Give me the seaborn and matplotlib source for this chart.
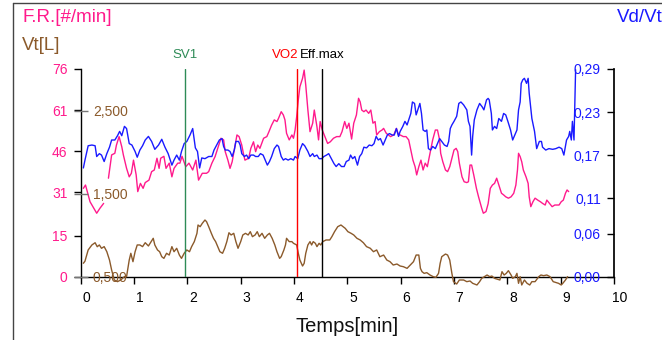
import numpy as np
import pandas as pd
import matplotlib
matplotlib.use('Agg')
import matplotlib.pyplot as plt
import matplotlib.transforms as mtransforms
from matplotlib.lines import Line2D
import seaborn as sns

# F.R. [#/min] (left axis) - two pieces, gap near 0.45 min
fr_t = [0.05, 0.09, 0.175, 0.30, 0.36, 0.43,
        0.52, 0.58, 0.64, 0.67, 0.72, 0.77, 0.80, 0.86, 0.91, 0.95, 0.99, 1.04, 1.07, 1.12,
        1.17, 1.21, 1.28, 1.33, 1.38, 1.43, 1.47, 1.50, 1.56, 1.60, 1.66, 1.71, 1.75, 1.82,
        1.86, 1.90, 1.97, 2.03, 2.10, 2.16, 2.21, 2.28, 2.36, 2.40, 2.46, 2.52, 2.58, 2.63,
        2.68, 2.71, 2.76, 2.80, 2.84, 2.88, 2.93, 2.97, 3.02, 3.05, 3.08, 3.15, 3.19, 3.24,
        3.28, 3.32, 3.36, 3.43, 3.49, 3.53, 3.58, 3.63, 3.68, 3.71, 3.76, 3.80, 3.83, 3.86,
        3.91, 3.96, 3.99, 4.02, 4.05, 4.08, 4.11, 4.16, 4.19, 4.22, 4.26, 4.30, 4.35, 4.38,
        4.43, 4.46, 4.49, 4.53, 4.58, 4.63, 4.68, 4.74, 4.80, 4.86, 4.90, 4.95, 4.99, 5.03,
        5.08, 5.12, 5.17, 5.21, 5.24, 5.27, 5.31, 5.35, 5.40, 5.44, 5.48, 5.52, 5.55, 5.60,
        5.65, 5.68, 5.73, 5.77, 5.81, 5.87, 5.92, 5.96, 5.99, 6.05, 6.10, 6.15, 6.19, 6.23,
        6.27, 6.30, 6.34, 6.38, 6.42, 6.46, 6.50, 6.55, 6.60, 6.65, 6.69, 6.73, 6.75, 6.79,
        6.84, 6.88, 6.92, 6.96, 7.00, 7.04, 7.07, 7.10, 7.15, 7.19, 7.24, 7.27, 7.30, 7.33,
        7.37, 7.42, 7.46, 7.52, 7.55, 7.60, 7.64, 7.68, 7.72, 7.76, 7.80, 7.85, 7.89, 7.93,
        7.97, 8.02, 8.07, 8.12, 8.16, 8.19, 8.21, 8.24, 8.27, 8.30, 8.35, 8.39, 8.41, 8.44,
        8.48, 8.52, 8.57, 8.62, 8.66, 8.71, 8.74, 8.79, 8.84, 8.89, 8.93, 8.97, 9.01, 9.05,
        9.09, 9.12, 9.15]
fr = [32.4, 33.6, 27.5, 23.3, 25.1, 26.9,
      36.1, 44.6, 45.2, 48.2, 51.3, 47.6, 44.6, 39.7, 36.6, 37.9, 42.7, 37.3, 31.2, 34.2,
      32.4, 34.5, 35.4, 38.5, 39.1, 43.4, 39.7, 43.4, 44.1, 39.7, 41.6, 36.6, 39.7, 41.6,
      41.6, 44.1, 40.3, 41.6, 39.1, 42.7, 35.4, 37.9, 37.9, 38.5, 41.6, 44.0, 47.6, 50.7,
      50.1, 45.8, 42.7, 39.7, 42.1, 46.4, 51.9, 51.3, 48.2, 45.2, 42.7, 43.4, 47.0, 49.4,
      45.8, 48.2, 47.0, 50.7, 51.3, 53.1, 55.5, 57.4, 56.8, 58.0, 60.4, 59.2, 57.4, 52.5,
      50.1, 51.9, 50.7, 53.7, 58.6, 64.7, 69.5, 72.6, 75.6, 70.1, 61.0, 53.1, 56.2, 61.0,
      54.9, 50.1, 56.8, 53.7, 51.3, 48.8, 49.4, 50.7, 51.3, 51.3, 53.1, 56.8, 54.3, 56.2,
      50.4, 56.2, 59.2, 65.3, 64.0, 61.0, 60.4, 61.0, 59.8, 61.0, 56.2, 56.8, 51.9, 53.1,
      53.7, 54.3, 52.5, 51.9, 51.3, 51.9, 54.3, 51.9, 51.9, 51.3, 51.3, 50.1, 46.4, 42.7,
      40.3, 37.3, 40.3, 42.7, 39.1, 41.6, 40.3, 45.2, 50.1, 53.7, 53.7, 50.1, 45.2, 42.1,
      39.1, 38.5, 40.3, 43.4, 46.4, 47.0, 45.8, 41.6, 36.6, 34.8, 34.5, 34.8, 40.9, 40.9,
      37.3, 32.4, 29.3, 25.1, 23.3, 23.9, 26.8, 32.4, 33.6, 34.2, 36.1, 33.0, 30.6, 30.0,
      29.3, 28.8, 29.3, 30.6, 33.6, 39.1, 45.2, 44.0, 42.1, 39.1, 36.6, 34.2, 29.3, 25.7,
      27.5, 28.8, 28.1, 27.5, 26.9, 26.3, 28.1, 26.9, 25.7, 26.3, 26.3, 26.3, 27.5, 28.1,
      30.6, 31.8, 31.2]
fr_seg = [0] * 6 + [1] * (len(fr_t) - 6)

# Vd/Vt (right axis)
vd_t = [0.05, 0.08, 0.14, 0.21, 0.27, 0.30, 0.35, 0.39, 0.44, 0.49, 0.54, 0.58, 0.64, 0.69,
        0.73, 0.77, 0.82, 0.86, 0.91, 0.96, 1.02, 1.06, 1.11, 1.16, 1.21, 1.27, 1.33, 1.39,
        1.46, 1.52, 1.58, 1.64, 1.71, 1.75, 1.80, 1.85, 1.89, 1.94, 1.99, 2.05, 2.10, 2.15,
        2.19, 2.23, 2.27, 2.33, 2.40, 2.46, 2.50, 2.55, 2.60, 2.65, 2.68, 2.71, 2.76, 2.80,
        2.84, 2.88, 2.91, 2.96, 2.99, 3.02, 3.07, 3.11, 3.15, 3.19, 3.24, 3.28, 3.33, 3.37,
        3.42, 3.46, 3.50, 3.54, 3.58, 3.63, 3.68, 3.71, 3.76, 3.80, 3.84, 3.89, 3.94, 3.99,
        4.02, 4.07, 4.11, 4.16, 4.20, 4.26, 4.30, 4.35, 4.38, 4.43, 4.47, 4.52, 4.56, 4.61,
        4.65, 4.70, 4.75, 4.79, 4.84, 4.89, 4.94, 4.98, 5.03, 5.06, 5.10, 5.14, 5.19, 5.23,
        5.27, 5.31, 5.36, 5.41, 5.46, 5.50, 5.54, 5.58, 5.62, 5.67, 5.71, 5.75, 5.79, 5.84,
        5.88, 5.92, 5.96, 5.99, 6.04, 6.08, 6.12, 6.16, 6.19, 6.22, 6.26, 6.29, 6.32, 6.36,
        6.39, 6.42, 6.46, 6.49, 6.52, 6.56, 6.60, 6.65, 6.69, 6.73, 6.77, 6.82, 6.87, 6.90,
        6.93, 6.96, 7.00, 7.05, 7.09, 7.13, 7.18, 7.24, 7.27, 7.30, 7.33, 7.35, 7.38, 7.43,
        7.48, 7.53, 7.56, 7.61, 7.64, 7.66, 7.70, 7.72, 7.76, 7.80, 7.84, 7.89, 7.93, 7.97,
        8.01, 8.06, 8.10, 8.14, 8.18, 8.21, 8.24, 8.26, 8.29, 8.32, 8.36, 8.39, 8.41, 8.46,
        8.51, 8.55, 8.60, 8.64, 8.66, 8.72, 8.78, 8.85, 8.91, 8.97, 9.02, 9.06, 9.11, 9.15,
        9.17, 9.20, 9.22, 9.25, 9.28]
vd = [0.152, 0.163, 0.183, 0.184, 0.183, 0.168, 0.172, 0.170, 0.161, 0.172, 0.181, 0.191,
      0.191, 0.197, 0.203, 0.197, 0.210, 0.207, 0.186, 0.184, 0.175, 0.167, 0.177, 0.183,
      0.191, 0.196, 0.189, 0.178, 0.184, 0.192, 0.181, 0.172, 0.156, 0.163, 0.170, 0.163,
      0.175, 0.186, 0.189, 0.198, 0.207, 0.180, 0.175, 0.152, 0.166, 0.165, 0.168, 0.168,
      0.177, 0.184, 0.191, 0.193, 0.182, 0.177, 0.177, 0.175, 0.168, 0.177, 0.189, 0.189,
      0.184, 0.172, 0.168, 0.170, 0.165, 0.170, 0.170, 0.168, 0.168, 0.172, 0.170, 0.163,
      0.156, 0.161, 0.168, 0.179, 0.184, 0.182, 0.168, 0.163, 0.165, 0.163, 0.165, 0.163,
      0.168, 0.165, 0.177, 0.186, 0.183, 0.175, 0.168, 0.172, 0.168, 0.170, 0.165, 0.165,
      0.168, 0.170, 0.172, 0.165, 0.158, 0.154, 0.158, 0.154, 0.154, 0.161, 0.163, 0.170,
      0.165, 0.168, 0.156, 0.168, 0.172, 0.181, 0.180, 0.184, 0.183, 0.186, 0.196, 0.191,
      0.193, 0.184, 0.191, 0.198, 0.200, 0.198, 0.198, 0.207, 0.196, 0.203, 0.210, 0.217,
      0.212, 0.221, 0.228, 0.244, 0.242, 0.226, 0.233, 0.242, 0.228, 0.205, 0.203, 0.205,
      0.179, 0.177, 0.182, 0.179, 0.186, 0.193, 0.189, 0.184, 0.182, 0.189, 0.207, 0.212,
      0.217, 0.224, 0.242, 0.244, 0.240, 0.233, 0.217, 0.210, 0.170, 0.196, 0.219, 0.233,
      0.242, 0.237, 0.233, 0.247, 0.249, 0.247, 0.228, 0.205, 0.210, 0.207, 0.221, 0.217,
      0.228, 0.226, 0.217, 0.205, 0.191, 0.198, 0.205, 0.233, 0.244, 0.270, 0.275, 0.277,
      0.270, 0.277, 0.256, 0.221, 0.203, 0.179, 0.189, 0.189, 0.181, 0.177, 0.179, 0.178,
      0.179, 0.181, 0.179, 0.170, 0.191, 0.196, 0.203, 0.191, 0.217, 0.191, 0.289]

# Vt [L] (inner left axis)
vt_t = [0.05, 0.08, 0.14, 0.21, 0.27, 0.31, 0.35, 0.39, 0.44, 0.49, 0.54, 0.58, 0.63, 0.69,
        0.75, 0.82, 0.86, 0.91, 0.94, 0.98, 1.02, 1.06, 1.11, 1.16, 1.21, 1.27, 1.32, 1.36,
        1.39, 1.44, 1.48, 1.52, 1.56, 1.61, 1.66, 1.71, 1.75, 1.80, 1.85, 1.89, 1.94, 1.99,
        2.04, 2.08, 2.13, 2.18, 2.20, 2.24, 2.28, 2.33, 2.36, 2.40, 2.45, 2.49, 2.53, 2.57,
        2.61, 2.66, 2.70, 2.74, 2.78, 2.82, 2.87, 2.91, 2.95, 3.00, 3.04, 3.09, 3.14, 3.18,
        3.22, 3.27, 3.31, 3.35, 3.40, 3.45, 3.50, 3.54, 3.59, 3.64, 3.68, 3.73, 3.76, 3.81,
        3.84, 3.86, 3.91, 3.96, 3.99, 4.05, 4.08, 4.11, 4.16, 4.19, 4.22, 4.26, 4.30, 4.33,
        4.36, 4.40, 4.43, 4.47, 4.50, 4.54, 4.60, 4.67, 4.71, 4.76, 4.82, 4.88, 4.92, 4.96,
        5.01, 5.07, 5.12, 5.18, 5.24, 5.30, 5.36, 5.43, 5.49, 5.55, 5.61, 5.68, 5.74, 5.80,
        5.86, 5.93, 5.99, 6.05, 6.12, 6.18, 6.24, 6.29, 6.34, 6.37, 6.40, 6.44, 6.49, 6.55,
        6.61, 6.66, 6.71, 6.74, 6.77, 6.84, 6.88, 6.92, 6.96, 6.99, 7.05, 7.10, 7.18, 7.24,
        7.30, 7.35, 7.43, 7.48, 7.52, 7.57, 7.62, 7.67, 7.71, 7.76, 7.81, 7.86, 7.90, 7.94,
        7.98, 8.02, 8.07, 8.10, 8.15, 8.18, 8.21, 8.24, 8.27, 8.32, 8.37, 8.42, 8.46, 8.52,
        8.59, 8.63, 8.68, 8.74, 8.80, 8.86, 8.92, 8.96, 9.01, 9.04, 9.09, 9.13]
vt = [0.665, 0.690, 0.825, 0.885, 0.912, 0.864, 0.885, 0.845, 0.865, 0.804, 0.704, 0.584,
      0.464, 0.444, 0.464, 0.504, 0.504, 0.704, 0.785, 0.684, 0.804, 0.885, 0.885, 0.865,
      0.912, 0.873, 0.925, 0.965, 0.885, 0.825, 0.804, 0.744, 0.724, 0.785, 0.764, 0.865,
      0.804, 0.845, 0.764, 0.724, 0.785, 0.825, 0.804, 0.865, 0.925, 1.025, 1.125, 1.105,
      1.145, 1.185, 1.165, 1.105, 1.025, 0.965, 0.925, 0.864, 0.804, 0.785, 0.845, 0.925,
      1.032, 1.005, 1.025, 0.925, 0.845, 0.925, 1.005, 1.025, 1.005, 1.045, 0.985, 1.005,
      1.045, 0.985, 1.025, 0.965, 1.005, 1.025, 0.965, 0.885, 0.804, 0.724, 0.745, 0.825,
      0.885, 0.965, 0.925, 0.925, 0.905, 0.885, 0.785, 0.704, 0.632, 0.664, 0.785, 0.885,
      0.925, 0.885, 0.925, 0.905, 0.865, 0.905, 0.885, 0.925, 0.945, 0.945, 0.985, 1.045,
      1.105, 1.125, 1.105, 1.085, 1.045, 1.025, 1.005, 0.965, 0.945, 0.912, 0.865, 0.845,
      0.804, 0.825, 0.744, 0.764, 0.704, 0.684, 0.644, 0.656, 0.632, 0.624, 0.604, 0.644,
      0.684, 0.764, 0.764, 0.604, 0.564, 0.544, 0.552, 0.524, 0.504, 0.496, 0.544, 0.664,
      0.744, 0.776, 0.764, 0.704, 0.544, 0.444, 0.416, 0.464, 0.464, 0.444, 0.452, 0.424,
      0.404, 0.444, 0.484, 0.504, 0.524, 0.504, 0.512, 0.484, 0.474, 0.464, 0.564, 0.524,
      0.544, 0.576, 0.524, 0.484, 0.504, 0.544, 0.424, 0.504, 0.404, 0.464, 0.424, 0.404,
      0.444, 0.444, 0.504, 0.524, 0.516, 0.524, 0.504, 0.444, 0.432, 0.424, 0.404, 0.424,
      0.464, 0.504]

fr_ticks = [0, 15, 31, 46, 61, 76]
vd_ticks = [0.00, 0.06, 0.11, 0.17, 0.23, 0.29]
vt_ticks = [0.5, 1.5, 2.5]
markers = {'SV1': 1.957, 'VO2': 4.064, 'Eff.max': 4.533}

pink = '#ff1a8c'
blue = '#1a1aff'
brown = '#8b5a2b'
green = '#2e8b57'

sns.set_theme(style='white')
plt.rcParams['font.family'] = ['Liberation Sans', 'DejaVu Sans']

df_fr = pd.DataFrame({'t': fr_t, 'val': fr, 'seg': fr_seg})
df_vd = pd.DataFrame({'t': vd_t, 'val': vd})
df_vt = pd.DataFrame({'t': vt_t, 'val': vt})

fig = plt.figure(figsize=(6.62, 3.40), dpi=100)
ax = fig.add_axes([80.7 / 662, 1 - 277 / 340, (614 - 80.7) / 662, 208 / 340])
ax2 = ax.twinx()
ax3 = ax.twinx()

sns.lineplot(data=df_fr, x='t', y='val', units='seg', estimator=None, sort=False,
             color=pink, lw=1, ax=ax)
sns.lineplot(data=df_vd, x='t', y='val', estimator=None, sort=False,
             color=blue, lw=1, ax=ax2, clip_on=False)
sns.lineplot(data=df_vt, x='t', y='val', estimator=None, sort=False,
             color=brown, lw=1, ax=ax3, clip_on=False)

ax.set_xlim(0, 10)
ax.set_ylim(0, 76)
ax2.set_ylim(0, 0.29)
ax3.set_ylim(0.5, 3.0)

for a in (ax, ax2, ax3):
    a.set_ylabel('')
    a.grid(False)
    a.patch.set_visible(False)
    for s in a.spines.values():
        s.set_visible(False)

# main axis
ax.spines['left'].set_visible(True)
ax.spines['bottom'].set_visible(True)
ax.spines['left'].set_color('black')
ax.spines['bottom'].set_color('black')
ax.spines['left'].set_linewidth(1)
ax.spines['bottom'].set_linewidth(1)
ax.set_xticks(range(0, 11))
ax.set_xticklabels([str(i) for i in range(0, 11)])
ax.set_yticks(fr_ticks)
ax.set_yticklabels([str(v) for v in fr_ticks])
ax.tick_params(axis='x', direction='out', length=5, width=1, color='black',
               labelsize=10, labelcolor='black', pad=5, bottom=True)
ax.tick_params(axis='y', direction='out', length=5, width=1, color='black',
               labelsize=10, labelcolor=pink, pad=4.5, left=True)
ax.set_xlabel('Temps[min]', fontsize=14.5, color='#111111', labelpad=9)
offset = mtransforms.ScaledTranslation(0.055, 0, fig.dpi_scale_trans)
for lab in ax.get_xticklabels():
    lab.set_transform(lab.get_transform() + offset)

# Vd/Vt axis: spine on the right, labels inside
ax2.yaxis.set_ticks_position('left')
ax2.spines['left'].set_position(('axes', 1.0))
ax2.spines['left'].set_visible(True)
ax2.spines['left'].set_color('black')
ax2.set_yticks(vd_ticks)
ax2.set_yticklabels([f'{v:.2f}'.replace('.', ',') for v in vd_ticks])
ax2.tick_params(axis='y', direction='out', length=5, width=1, color='black',
                labelsize=10, labelcolor=blue, pad=4.5, left=True, right=False,
                labelleft=True, labelright=False)

# Vt axis: ticks crossing the left spine, labels inside
ax3.yaxis.set_ticks_position('right')
ax3.spines['right'].set_position(('axes', 0.0))
ax3.set_yticks(vt_ticks)
ax3.set_yticklabels([f'{v:.3f}'.replace('.', ',') for v in vt_ticks])
ax3.tick_params(axis='y', direction='inout', length=9.5, width=1, color='#777777',
                labelsize=10, labelcolor=brown, pad=4, right=True, left=False,
                labelright=True, labelleft=False)

# event markers
tr = mtransforms.blended_transform_factory(ax.transData, ax.transAxes)
mcolors = {'SV1': green, 'VO2': '#ff0000', 'Eff.max': 'black'}
for name, xpos in markers.items():
    ax3.axvline(xpos, ymin=0, ymax=1, color=mcolors[name], lw=1)
    ha = 'right' if name == 'VO2' else 'center'
    ax.text(xpos + (0.02 if name == 'VO2' else 0), 1.067, name, transform=tr,
            ha=ha, va='center', fontsize=9.5, color=mcolors[name])

# axis titles
fig.text(22 / 662, 1 - 17 / 340, 'F.R.[#/min]', fontsize=13.5, color=pink, va='center')
fig.text(22 / 662, 1 - 45 / 340, 'Vt[L]', fontsize=13.5, color=brown, va='center')
fig.text(617 / 662, 1 - 17 / 340, 'Vd/Vt', fontsize=13.5, color=blue, va='center')

# outer frame
fig.add_artist(Line2D([13 / 662, 13 / 662], [0, 1 - 3 / 340], color='#444444', lw=1,
                      transform=fig.transFigure))
fig.add_artist(Line2D([13 / 662, 1], [1 - 3 / 340, 1 - 3 / 340], color='#444444', lw=1,
                      transform=fig.transFigure))

fig.savefig('out.png', dpi=100)
